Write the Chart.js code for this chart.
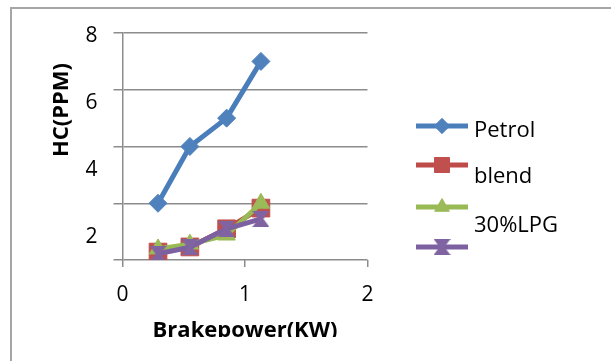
<!DOCTYPE html>
<html>
<head>
<meta charset="utf-8">
<script src="https://cdn.jsdelivr.net/npm/chart.js@4/dist/chart.umd.min.js"></script>
<style>
  html, body { margin: 0; padding: 0; background: #fff; }
  body { width: 611px; height: 361px; position: relative; overflow: hidden; }
  #frame {
    position: absolute; left: 10px; top: 7px; width: 640px; height: 400px;
    border-left: 2px solid #a6a6a6; border-top: 2px solid #a6a6a6;
  }
  #clip { position: absolute; left: 0; top: 0; width: 611px; height: 337px; overflow: hidden; }
</style>
</head>
<body>
<div id="frame"></div>
<div id="clip"><canvas id="hcChart" width="611" height="361"></canvas></div>
<script>
// data
const brakePower = [0.29, 0.55, 0.85, 1.13];
const petrol = [2, 4, 5, 7];
const blend = [0.28, 0.46, 1.1, 1.83];
const lpg30 = [0.39, 0.56, 0.88, 2.0];
const fourth = [0.22, 0.45, 1.1, 1.45];
const seriesNames = ["Petrol", "blend", "30%LPG", ""];
const xTickLabels = [0, 1, 2];
const yTickLabels = [2, 4, 6, 8];

const FONT = "'Open Sans', sans-serif";
const GRID = "#8c8c8c";

// hourglass marker for the last series
function hourglass(color) {
    const c = document.createElement("canvas");
    c.width = 17; c.height = 16;
    const g = c.getContext("2d");
    g.fillStyle = color;
    g.beginPath();
    g.moveTo(0, 0); g.lineTo(17, 0); g.lineTo(11, 8);
    g.lineTo(17, 16); g.lineTo(0, 16); g.lineTo(6, 8);
    g.closePath();
    g.fill();
    return c;
}

function pts(ys) {
    return ys.map((y, i) => ({ x: brakePower[i], y: y }));
}

const styles = [
    { line: "#4a7ebb", fill: "#4f81bd", point: "rectRot", r: 9 },
    { line: "#be4b48", fill: "#c0504d", point: "rect", r: 12.5 },
    { line: "#98b954", fill: "#9bbb59", point: "triangle", r: 10 },
    { line: "#7d60a0", fill: "#8064a2", point: hourglass("#8064a2"), r: 9 }
];

const datasets = [petrol, blend, lpg30, fourth].map((ys, i) => ({
    label: seriesNames[i],
    data: pts(ys),
    borderColor: styles[i].line,
    backgroundColor: styles[i].fill,
    borderWidth: 5,
    borderJoinStyle: "round",
    pointStyle: styles[i].point,
    pointRadius: styles[i].r,
    pointBackgroundColor: styles[i].fill,
    pointBorderColor: styles[i].fill,
    pointBorderWidth: 1,
    tension: 0,
    order: 4 - i
}));

// y title + legend with line and marker
const extras = {
    id: "extras",
    afterDraw(chart) {
        const ctx = chart.ctx;
        ctx.save();
        ctx.fillStyle = "#000";
        ctx.font = "bold 22px " + FONT;
        ctx.textAlign = "center";
        ctx.textBaseline = "middle";
        ctx.translate(62, 110);
        ctx.rotate(-Math.PI / 2);
        ctx.fillText("HC(PPM)", 0, 0);
        ctx.restore();

        const rowY = [126, 165, 207, 247];
        const textY = [137, 183, 232, 272];
        ctx.save();
        datasets.forEach((ds, i) => {
            ctx.strokeStyle = ds.borderColor;
            ctx.lineWidth = 5;
            ctx.beginPath();
            ctx.moveTo(416, rowY[i]);
            ctx.lineTo(468, rowY[i]);
            ctx.stroke();
            ctx.fillStyle = ds.pointBackgroundColor;
            ctx.strokeStyle = ds.pointBorderColor;
            ctx.lineWidth = 1;
            Chart.helpers.drawPoint(ctx, {
                pointStyle: ds.pointStyle, radius: ds.pointRadius * 0.85, rotation: 0, borderWidth: 1
            }, 442, rowY[i]);
            if (ds.label) {
                ctx.fillStyle = "#000";
                ctx.font = "22px " + FONT;
                ctx.textAlign = "left";
                ctx.textBaseline = "alphabetic";
                ctx.fillText(ds.label, 474, textY[i]);
            }
        });
        ctx.restore();
    }
};

new Chart(document.getElementById("hcChart"), {
    type: "line",
    data: { datasets: datasets },
    options: {
        responsive: false,
        animation: false,
        layout: { padding: { left: 83.5, top: 33, right: 243.5, bottom: 0 } },
        plugins: { legend: { display: false }, tooltip: { enabled: false } },
        scales: {
            x: {
                type: "linear",
                position: "bottom",
                min: 0,
                max: 2,
                afterBuildTicks: axis => { axis.ticks = xTickLabels.map(v => ({ value: v })); },
                afterFit: axis => { axis.height = 101; },
                ticks: { font: { family: FONT, size: 21 }, color: "#000", padding: 15 },
                grid: { drawOnChartArea: false, drawTicks: true, tickLength: 7, color: GRID, lineWidth: 1.5 },
                border: { display: false },
                title: {
                    display: true,
                    text: "Brakepower(KW)",
                    color: "#000",
                    font: { family: FONT, size: 22, weight: "bold" },
                    padding: { top: 0, bottom: 17 }
                }
            },
            y: {
                position: "left",
                weight: 0,
                min: 0,
                max: 8,
                ticks: { display: false, stepSize: 2 },
                grid: { color: GRID, lineWidth: 1.5, tickLength: 9 },
                border: { display: true, color: GRID, width: 1.5 }
            },
            yl: {
                type: "linear",
                position: "left",
                weight: 1,
                min: 1.33,
                max: 8.09,
                afterBuildTicks: axis => { axis.ticks = yTickLabels.map(v => ({ value: v })); },
                afterFit: axis => { axis.width = 30; },
                ticks: { font: { family: FONT, size: 21 }, color: "#000", padding: 16 },
                grid: { display: false, drawTicks: false },
                border: { display: false }
            }
        }
    },
    plugins: [extras]
});
</script>
</body>
</html>
